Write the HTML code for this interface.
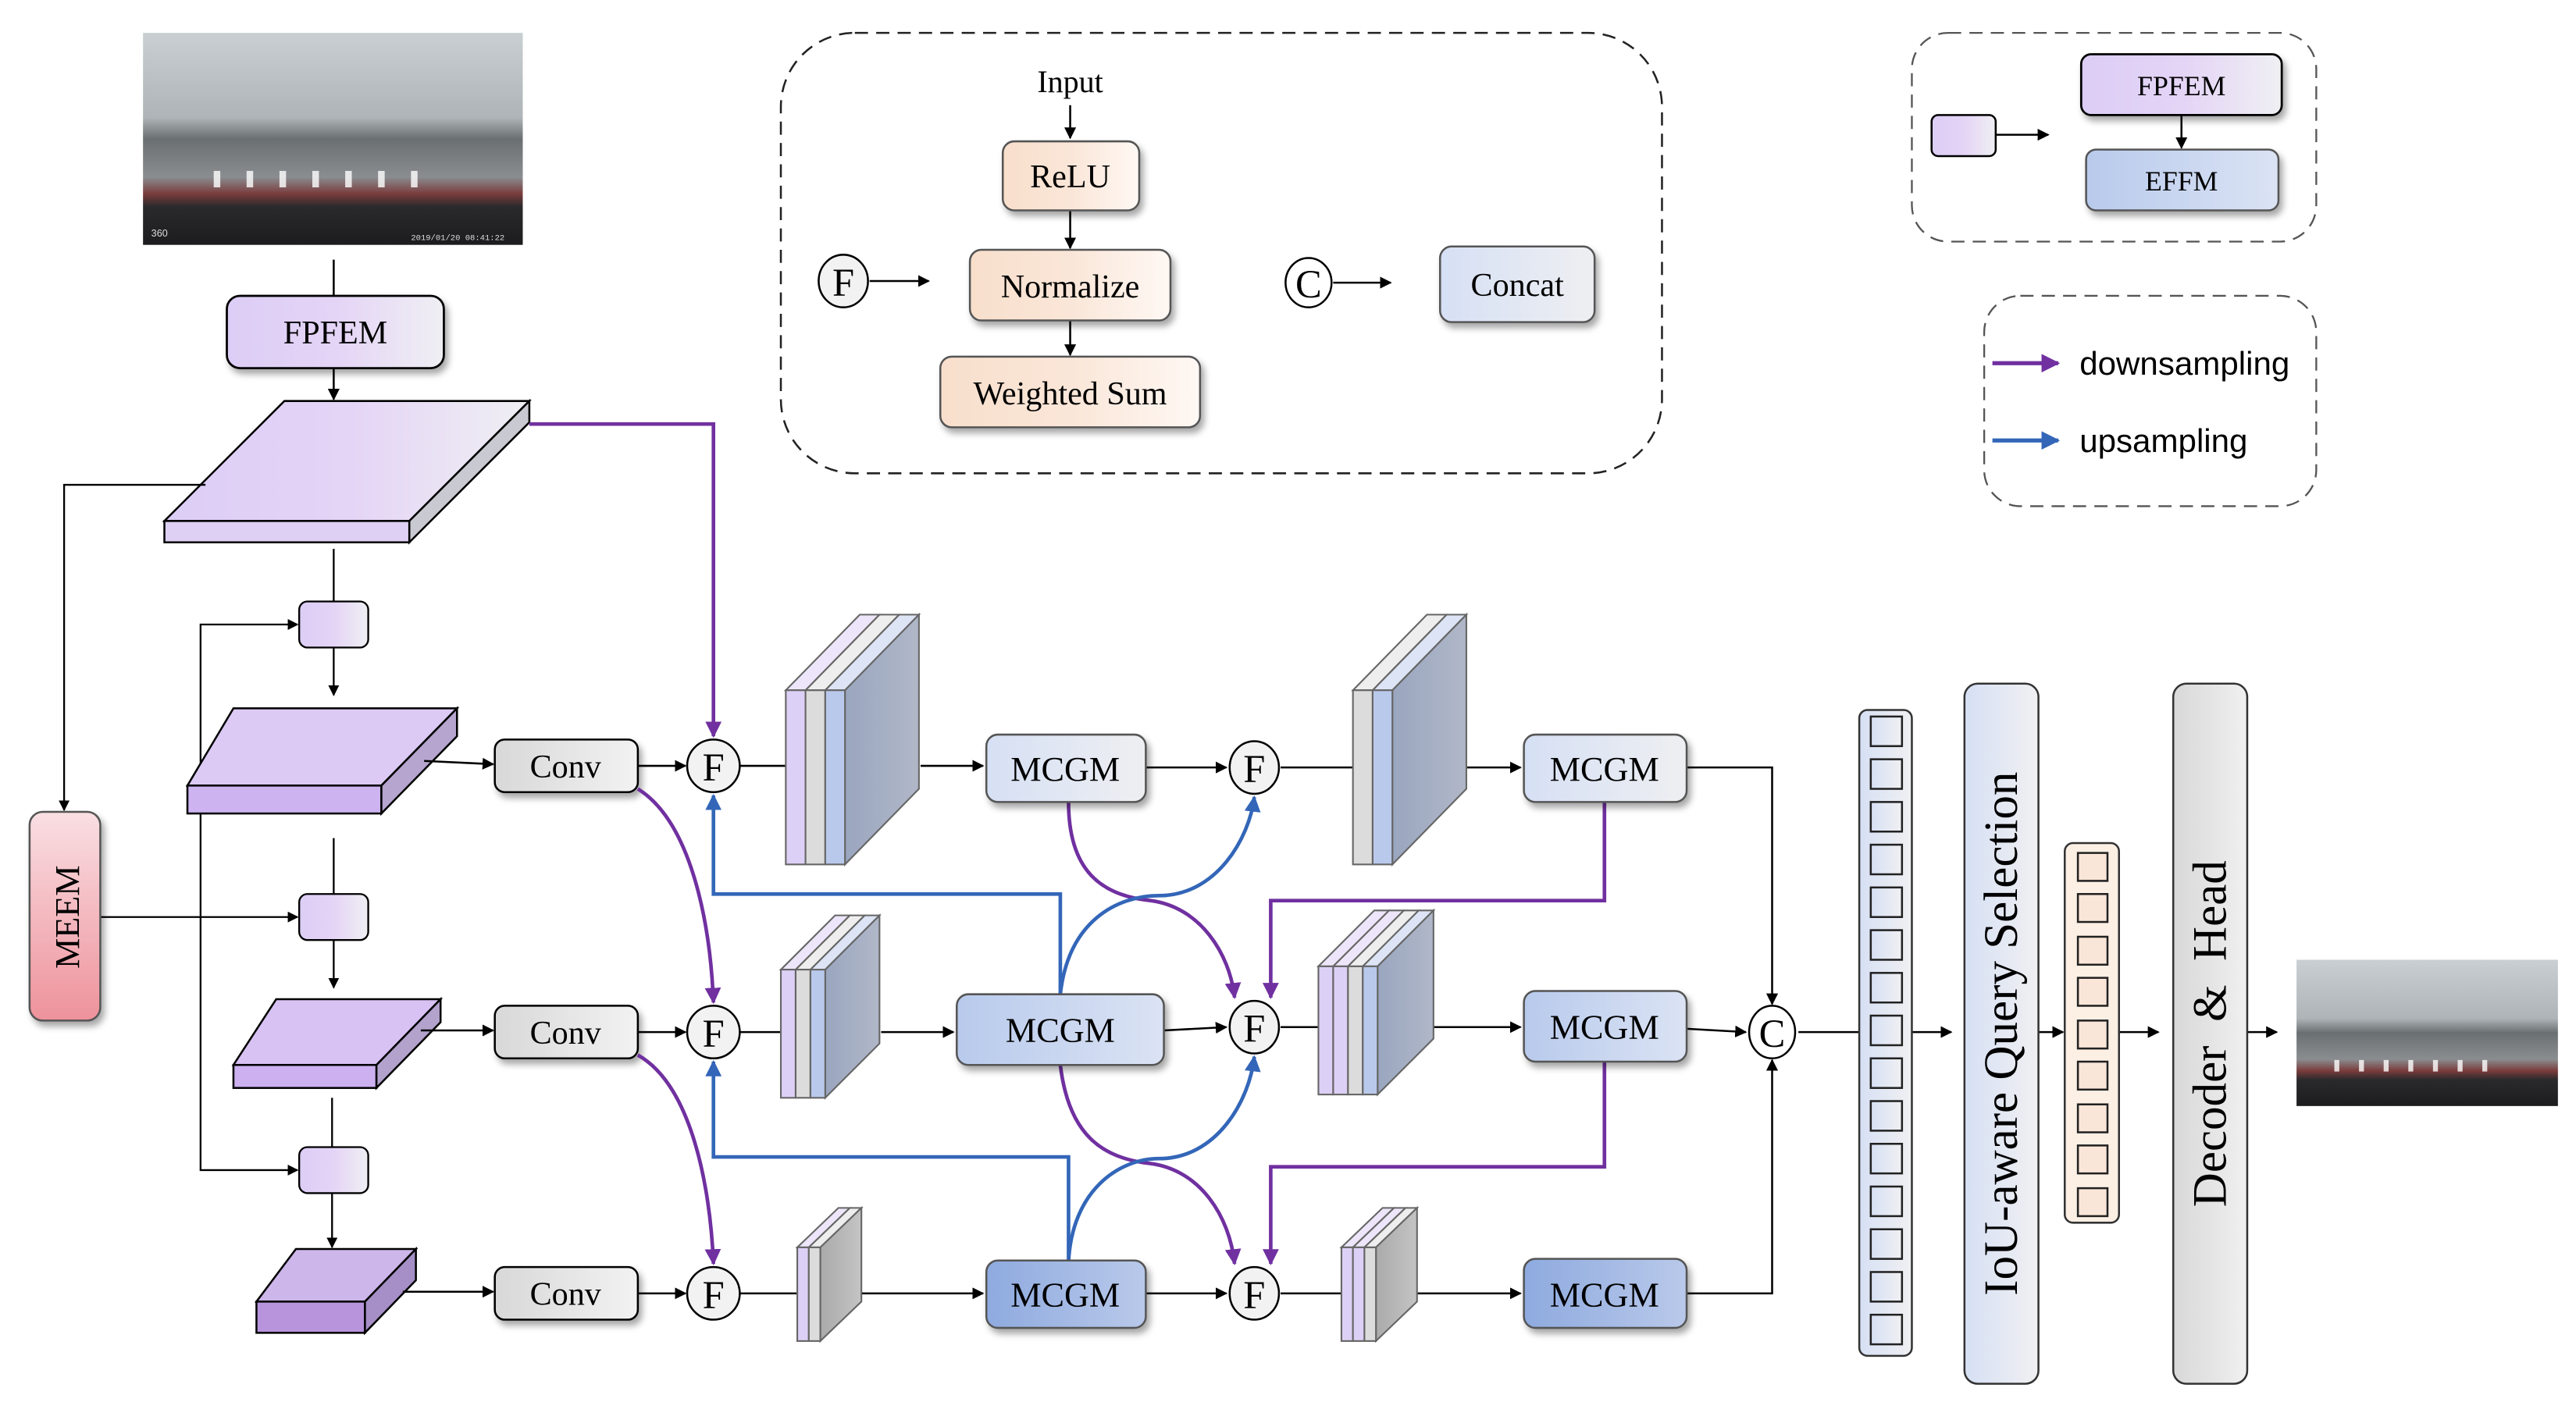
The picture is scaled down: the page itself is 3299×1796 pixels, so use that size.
<!DOCTYPE html>
<html><head><meta charset="utf-8"><style>html,body{margin:0;padding:0;background:#fff}svg{display:block}</style></head><body>
<svg width="3299" height="1796" viewBox="0 0 1567 853.1" preserveAspectRatio="none" xmlns="http://www.w3.org/2000/svg" font-family="'Liberation Serif',serif">
<defs>
<marker id="ak" viewBox="0 0 10 10" refX="9" refY="5" markerWidth="6" markerHeight="6" orient="auto-start-reverse"><path d="M0,0L10,5L0,10z" fill="#000"/></marker>
<marker id="ap" viewBox="0 0 10 10" refX="9" refY="5" markerWidth="4.5" markerHeight="4.5" orient="auto"><path d="M0,0L10,5L0,10z" fill="#7030a0"/></marker>
<marker id="ab" viewBox="0 0 10 10" refX="9" refY="5" markerWidth="4.5" markerHeight="4.5" orient="auto"><path d="M0,0L10,5L0,10z" fill="#3366b8"/></marker>
<filter id="sh" x="-10%" y="-10%" width="130%" height="140%"><feDropShadow dx="2" dy="3" stdDeviation="2" flood-color="#000" flood-opacity="0.35"/></filter>
<linearGradient id="gPur" x1="0" x2="1"><stop offset="0" stop-color="#dccdf6"/><stop offset="0.5" stop-color="#e4d4f6"/><stop offset="1" stop-color="#efeff3"/></linearGradient>
<linearGradient id="gGrey" x1="0" x2="1"><stop offset="0" stop-color="#d8d8d8"/><stop offset="1" stop-color="#f2f2f2"/></linearGradient>
<linearGradient id="gBlue1" x1="0" x2="1"><stop offset="0" stop-color="#d6e0f4"/><stop offset="1" stop-color="#eeeff2"/></linearGradient>
<linearGradient id="gBlue2" x1="0" x2="1"><stop offset="0" stop-color="#b8caec"/><stop offset="1" stop-color="#dbe3f4"/></linearGradient>
<linearGradient id="gBlue3" x1="0" x2="1"><stop offset="0" stop-color="#8eaadf"/><stop offset="1" stop-color="#b9c9ea"/></linearGradient>
<linearGradient id="gOr" x1="0" x2="1"><stop offset="0" stop-color="#f8dfcc"/><stop offset="0.5" stop-color="#fae6d8"/><stop offset="1" stop-color="#fff8f4"/></linearGradient>
<linearGradient id="gPink" x1="0" x2="0" y1="0" y2="1"><stop offset="0" stop-color="#f9dfe3"/><stop offset="1" stop-color="#ee929b"/></linearGradient>
<linearGradient id="gSide" x1="0" x2="1"><stop offset="0" stop-color="#9aa6bf"/><stop offset="1" stop-color="#b0b7c8"/></linearGradient>
<linearGradient id="gSideG" x1="0" x2="1"><stop offset="0" stop-color="#aaa"/><stop offset="1" stop-color="#c4c4c4"/></linearGradient>
<linearGradient id="gSky" x1="0" x2="0" y1="0" y2="1"><stop offset="0" stop-color="#c9cfd2"/><stop offset="0.4" stop-color="#aeb4b7"/><stop offset="0.5" stop-color="#6a6f72"/><stop offset="0.68" stop-color="#8a8d90"/><stop offset="0.76" stop-color="#7a3b3c"/><stop offset="0.82" stop-color="#2a2a2c"/><stop offset="1" stop-color="#1c1c1e"/></linearGradient>
<linearGradient id="gIou" x1="0" x2="1"><stop offset="0" stop-color="#d6e0f4"/><stop offset="1" stop-color="#f0f0f2"/></linearGradient>
<linearGradient id="gDec" x1="0" x2="1"><stop offset="0" stop-color="#d8d8d8"/><stop offset="1" stop-color="#f0f0f0"/></linearGradient>
</defs>

<!-- input image -->
<rect x="87" y="20" width="231" height="129" fill="url(#gSky)"/>
<g fill="#fff" opacity="0.8"><rect x="130" y="104" width="4" height="10"/><rect x="150" y="104" width="4" height="10"/><rect x="170" y="104" width="4" height="10"/><rect x="190" y="104" width="4" height="10"/><rect x="210" y="104" width="4" height="10"/><rect x="230" y="104" width="4" height="10"/><rect x="250" y="104" width="4" height="10"/></g>
<text x="92" y="144" font-family="'Liberation Sans',sans-serif" font-size="6" fill="#ddd">360</text>
<text x="250" y="146" font-family="'Liberation Mono',monospace" font-size="5" fill="#ddd">2019/01/20 08:41:22</text>

<!-- output image -->
<rect x="1397" y="584" width="159" height="89" fill="url(#gSky)"/>
<g fill="#fff" opacity="0.8"><rect x="1420" y="645" width="3" height="7"/><rect x="1435" y="645" width="3" height="7"/><rect x="1450" y="645" width="3" height="7"/><rect x="1465" y="645" width="3" height="7"/><rect x="1480" y="645" width="3" height="7"/><rect x="1495" y="645" width="3" height="7"/><rect x="1510" y="645" width="3" height="7"/></g>

<g stroke="#000" stroke-width="1.2" fill="none">
<line x1="203" y1="158" x2="203" y2="180"/>
<line x1="203" y1="224" x2="203" y2="243" marker-end="url(#ak)"/>
</g>
<rect x="138" y="180" width="132" height="44" rx="8" fill="url(#gPur)" stroke="#000" stroke-width="1.3" filter="url(#sh)"/>
<text x="204" y="209" font-size="20" text-anchor="middle">FPFEM</text>

<!-- slab1 -->
<polygon points="173,244 322,244 249,317 100,317" fill="url(#gPur)" stroke="#000" stroke-width="1.2"/>
<rect x="100" y="317" width="149" height="13" fill="#ddd0f4" stroke="#000" stroke-width="1.2"/>
<polygon points="249,317 322,244 322,257 249,330" fill="#c9c9d2" stroke="#000" stroke-width="1.2"/>

<!-- left lines -->
<g stroke="#000" stroke-width="1.1" fill="none">
<polyline points="125,295 39,295 39,493" marker-end="url(#ak)"/>
<line x1="203" y1="334" x2="203" y2="366"/>
<polyline points="122,495 122,380 181,380" marker-end="url(#ak)"/>
<line x1="203" y1="394" x2="203" y2="423" marker-end="url(#ak)"/>
<line x1="61" y1="558" x2="181" y2="558" marker-end="url(#ak)"/>
<line x1="203" y1="510" x2="203" y2="544"/>
<line x1="203" y1="572" x2="203" y2="601" marker-end="url(#ak)"/>
<polyline points="122,495 122,712 181,712" marker-end="url(#ak)"/>
<line x1="202" y1="668" x2="202" y2="698"/>
<line x1="202" y1="726" x2="202" y2="759" marker-end="url(#ak)"/>
</g>
<rect x="18" y="494" width="43" height="127" rx="8" fill="url(#gPink)" stroke="#555" stroke-width="1.2" filter="url(#sh)"/>
<text transform="translate(48,558) rotate(-90)" font-size="21" text-anchor="middle">MEEM</text>
<rect x="182" y="366" width="42" height="28" rx="5" fill="url(#gPur)" stroke="#000" stroke-width="1.1"/>
<rect x="182" y="544" width="42" height="28" rx="5" fill="url(#gPur)" stroke="#000" stroke-width="1.1"/>
<rect x="182" y="698" width="42" height="28" rx="5" fill="url(#gPur)" stroke="#000" stroke-width="1.1"/>

<!-- slabs 2-4 -->
<polygon points="142,431 278,431 232,478 114,478" fill="#dccaf5" stroke="#000" stroke-width="1.2"/>
<rect x="114" y="478" width="118" height="17" fill="#cdb4f0" stroke="#000" stroke-width="1.2"/>
<polygon points="232,478 278,431 278,448 232,495" fill="#b6a5cf" stroke="#000" stroke-width="1.2"/>
<polygon points="168,608 268,608 229,648 142,648" fill="#d8c2f3" stroke="#000" stroke-width="1.2"/>
<rect x="142" y="648" width="87" height="14" fill="#ccb0f0" stroke="#000" stroke-width="1.2"/>
<polygon points="229,648 268,608 268,622 229,662" fill="#b2a2cc" stroke="#000" stroke-width="1.2"/>
<polygon points="180,760 253,760 222,792 156,792" fill="#cdb6ea" stroke="#000" stroke-width="1.2"/>
<rect x="156" y="792" width="66" height="19" fill="#b894dc" stroke="#000" stroke-width="1.2"/>
<polygon points="222,792 253,760 253,779 222,811" fill="#a58fc6" stroke="#000" stroke-width="1.2"/>

<!-- conv row arrows -->
<g stroke="#000" stroke-width="1.2" fill="none">
<line x1="258" y1="463" x2="300" y2="465" marker-end="url(#ak)"/>
<line x1="388" y1="466" x2="417" y2="466" marker-end="url(#ak)"/>
<line x1="256" y1="627" x2="300" y2="627" marker-end="url(#ak)"/>
<line x1="388" y1="628" x2="417" y2="628" marker-end="url(#ak)"/>
<line x1="245" y1="786" x2="300" y2="786" marker-end="url(#ak)"/>
<line x1="388" y1="787" x2="417" y2="787" marker-end="url(#ak)"/>
<line x1="450" y1="466" x2="478" y2="466"/>
<line x1="560" y1="466" x2="598" y2="466" marker-end="url(#ak)"/>
<line x1="450" y1="628" x2="475" y2="628"/>
<line x1="536" y1="628" x2="580" y2="628" marker-end="url(#ak)"/>
<line x1="450" y1="787" x2="487" y2="787"/>
<line x1="524" y1="787" x2="598" y2="787" marker-end="url(#ak)"/>
<line x1="697" y1="467" x2="746" y2="467" marker-end="url(#ak)"/>
<line x1="708" y1="627" x2="746" y2="625" marker-end="url(#ak)"/>
<line x1="697" y1="787" x2="746" y2="787" marker-end="url(#ak)"/>
<line x1="779" y1="467" x2="823" y2="467"/>
<line x1="892" y1="467" x2="925" y2="467" marker-end="url(#ak)"/>
<line x1="779" y1="625" x2="805" y2="625"/>
<line x1="872" y1="625" x2="925" y2="625" marker-end="url(#ak)"/>
<line x1="779" y1="787" x2="816" y2="787"/>
<line x1="862" y1="787" x2="925" y2="787" marker-end="url(#ak)"/>
<polyline points="1026,467 1078,467 1078,611" marker-end="url(#ak)"/>
<line x1="1026" y1="626" x2="1062" y2="628" marker-end="url(#ak)"/>
<polyline points="1026,787 1078,787 1078,645" marker-end="url(#ak)"/>
<line x1="1094" y1="628" x2="1131" y2="628"/>
<line x1="1163" y1="628" x2="1187" y2="628" marker-end="url(#ak)"/>
<line x1="1240" y1="628" x2="1255" y2="628" marker-end="url(#ak)"/>
<line x1="1289" y1="628" x2="1313" y2="628" marker-end="url(#ak)"/>
<line x1="1367" y1="628" x2="1385" y2="628" marker-end="url(#ak)"/>
</g>

<!-- conv boxes -->
<g filter="url(#sh)" stroke="#000" stroke-width="1.2" fill="url(#gGrey)">
<rect x="301" y="450" width="87" height="32" rx="6"/>
<rect x="301" y="612" width="87" height="32" rx="6"/>
<rect x="301" y="771" width="87" height="32" rx="6"/>
</g>
<g font-size="20" text-anchor="middle"><text x="344" y="473">Conv</text><text x="344" y="635">Conv</text><text x="344" y="794">Conv</text></g>

<!-- purple/blue connectors -->
<g fill="none" stroke-width="2.2">
<polyline points="322,258 434,258 434,448" stroke="#7030a0" marker-end="url(#ap)"/>
<path d="M388,480 C420,500 432,560 434,610" stroke="#7030a0" marker-end="url(#ap)"/>
<path d="M388,642 C420,660 432,720 434,769" stroke="#7030a0" marker-end="url(#ap)"/>
<polyline points="645,605 645,544 434,544 434,484" stroke="#3366b8" marker-end="url(#ab)"/>
<polyline points="650,768 650,704 434,704 434,646" stroke="#3366b8" marker-end="url(#ab)"/>
<path d="M650,488 C650,530 670,545 700,548 C730,552 748,580 751,607" stroke="#7030a0" marker-end="url(#ap)"/>
<path d="M645,605 C650,560 680,545 705,545 C740,545 760,510 763,485" stroke="#3366b8" marker-end="url(#ab)"/>
<path d="M645,648 C650,690 670,705 700,708 C730,712 748,740 751,769" stroke="#7030a0" marker-end="url(#ap)"/>
<path d="M650,768 C652,725 680,705 705,705 C740,705 760,670 763,643" stroke="#3366b8" marker-end="url(#ab)"/>
<polyline points="976,488 976,548 773,548 773,607" stroke="#7030a0" marker-end="url(#ap)"/>
<polyline points="976,646 976,710 773,710 773,769" stroke="#7030a0" marker-end="url(#ap)"/>
</g>

<!-- F circles -->
<g fill="#f2f2f2" stroke="#000" stroke-width="1.2">
<circle cx="434" cy="466" r="16"/><circle cx="434" cy="628" r="16"/><circle cx="434" cy="787" r="16"/>
<ellipse cx="763" cy="467" rx="15" ry="16"/><ellipse cx="763" cy="625" rx="15" ry="16"/><ellipse cx="763" cy="787" rx="15" ry="16"/>
<ellipse cx="1078" cy="628" rx="14" ry="16" fill="#fff"/>
</g>
<g font-size="24" text-anchor="middle">
<text x="434" y="475">F</text><text x="434" y="637">F</text><text x="434" y="796">F</text>
<text x="763" y="476">F</text><text x="763" y="634">F</text><text x="763" y="796">F</text>
<text x="1078" y="637">C</text>
</g>

<!-- stacks -->
<g stroke="#666" stroke-width="1">
<polygon points="478,420 523,374 535,374 490,420" fill="#ede6fa"/>
<polygon points="490,420 535,374 547,374 502,420" fill="#eeeeee"/>
<polygon points="502,420 547,374 559,374 514,420" fill="#dce4f5"/>
<polygon points="514,420 559,374 559,480 514,526" fill="url(#gSide)"/>
<rect x="478" y="420" width="12" height="106" fill="#ddd0f6"/>
<rect x="490" y="420" width="12" height="106" fill="#dcdcdc"/>
<rect x="502" y="420" width="12" height="106" fill="#b9c9ec"/>
<polygon points="823,420 868,374 880,374 835,420" fill="#eeeeee"/>
<polygon points="835,420 880,374 892,374 847,420" fill="#dce4f5"/>
<polygon points="847,420 892,374 892,480 847,526" fill="url(#gSide)"/>
<rect x="823" y="420" width="12" height="106" fill="#dcdcdc"/>
<rect x="835" y="420" width="12" height="106" fill="#b9c9ec"/>
<polygon points="475,590 508,557 517,557 484,590" fill="#ede6fa"/>
<polygon points="484,590 517,557 526,557 493,590" fill="#eeeeee"/>
<polygon points="493,590 526,557 535,557 502,590" fill="#dce4f5"/>
<polygon points="502,590 535,557 535,635 502,668" fill="url(#gSide)"/>
<rect x="475" y="590" width="9" height="78" fill="#ddd0f6"/>
<rect x="484" y="590" width="9" height="78" fill="#dcdcdc"/>
<rect x="493" y="590" width="9" height="78" fill="#b9c9ec"/>
<polygon points="802,588 836,554 845,554 811,588" fill="#ede6fa"/>
<polygon points="811,588 845,554 854,554 820,588" fill="#ede6fa"/>
<polygon points="820,588 854,554 863,554 829,588" fill="#eeeeee"/>
<polygon points="829,588 863,554 872,554 838,588" fill="#dce4f5"/>
<polygon points="838,588 872,554 872,632 838,666" fill="url(#gSide)"/>
<rect x="802" y="588" width="9" height="78" fill="#ddd0f6"/>
<rect x="811" y="588" width="9" height="78" fill="#ddd0f6"/>
<rect x="820" y="588" width="9" height="78" fill="#dcdcdc"/>
<rect x="829" y="588" width="9" height="78" fill="#b9c9ec"/>
<polygon points="485,759 510,735 517,735 492,759" fill="#ede6fa"/>
<polygon points="492,759 517,735 524,735 499,759" fill="#eeeeee"/>
<polygon points="499,759 524,735 524,792 499,816" fill="url(#gSideG)"/>
<rect x="485" y="759" width="7" height="57" fill="#ddd0f6"/>
<rect x="492" y="759" width="7" height="57" fill="#dcdcdc"/>
<polygon points="816,759 841,735 848,735 823,759" fill="#ede6fa"/>
<polygon points="823,759 848,735 855,735 830,759" fill="#ede6fa"/>
<polygon points="830,759 855,735 862,735 837,759" fill="#eeeeee"/>
<polygon points="837,759 862,735 862,792 837,816" fill="url(#gSideG)"/>
<rect x="816" y="759" width="7" height="57" fill="#ddd0f6"/>
<rect x="823" y="759" width="7" height="57" fill="#ddd0f6"/>
<rect x="830" y="759" width="7" height="57" fill="#dcdcdc"/>
</g>

<!-- MCGM boxes -->
<g filter="url(#sh)" stroke="#555" stroke-width="1.2">
<rect x="600" y="447" width="97" height="41" rx="7" fill="url(#gBlue1)"/>
<rect x="927" y="447" width="99" height="41" rx="7" fill="url(#gBlue1)"/>
<rect x="582" y="605" width="126" height="43" rx="7" fill="url(#gBlue2)"/>
<rect x="927" y="603" width="99" height="43" rx="7" fill="url(#gBlue2)"/>
<rect x="600" y="767" width="97" height="41" rx="7" fill="url(#gBlue3)"/>
<rect x="927" y="766" width="99" height="42" rx="7" fill="url(#gBlue3)"/>
</g>
<g font-size="21" text-anchor="middle">
<text x="648" y="475">MCGM</text><text x="976" y="475">MCGM</text>
<text x="645" y="634">MCGM</text><text x="976" y="632">MCGM</text>
<text x="648" y="795">MCGM</text><text x="976" y="795">MCGM</text>
</g>

<!-- right columns -->
<rect x="1131" y="432" width="32" height="393" rx="5" fill="url(#gIou)" stroke="#333" stroke-width="1.2"/>
<g fill="url(#gIou)" stroke="#222" stroke-width="1.2">
<rect x="1138" y="436" width="19" height="18"/><rect x="1138" y="462" width="19" height="18"/><rect x="1138" y="488" width="19" height="18"/><rect x="1138" y="514" width="19" height="18"/><rect x="1138" y="540" width="19" height="18"/><rect x="1138" y="566" width="19" height="18"/><rect x="1138" y="592" width="19" height="18"/><rect x="1138" y="618" width="19" height="18"/><rect x="1138" y="644" width="19" height="18"/><rect x="1138" y="670" width="19" height="18"/><rect x="1138" y="696" width="19" height="18"/><rect x="1138" y="722" width="19" height="18"/><rect x="1138" y="748" width="19" height="18"/><rect x="1138" y="774" width="19" height="18"/><rect x="1138" y="800" width="19" height="18"/>
</g>
<rect x="1195" y="416" width="45" height="426" rx="8" fill="url(#gIou)" stroke="#333" stroke-width="1.2"/>
<text transform="translate(1227,629) rotate(-90)" font-size="29" text-anchor="middle">IoU-aware Query Selection</text>
<rect x="1256" y="513" width="33" height="231" rx="5" fill="#fcefe4" stroke="#333" stroke-width="1.2"/>
<g fill="#fae6d8" stroke="#222" stroke-width="1.2">
<rect x="1264" y="519" width="18" height="17"/><rect x="1264" y="544" width="18" height="17"/><rect x="1264" y="570" width="18" height="17"/><rect x="1264" y="595" width="18" height="17"/><rect x="1264" y="621" width="18" height="17"/><rect x="1264" y="646" width="18" height="17"/><rect x="1264" y="672" width="18" height="17"/><rect x="1264" y="697" width="18" height="17"/><rect x="1264" y="723" width="18" height="17"/>
</g>
<rect x="1322" y="416" width="45" height="426" rx="8" fill="url(#gDec)" stroke="#333" stroke-width="1.2"/>
<text transform="translate(1354,629) rotate(-90)" font-size="29" text-anchor="middle" xml:space="preserve">Decoder  &amp;  Head</text>

<!-- top dashed box -->
<rect x="475" y="20" width="536" height="268" rx="45" fill="none" stroke="#222" stroke-width="1.2" stroke-dasharray="8,5"/>
<text x="651" y="56" font-size="19" text-anchor="middle">Input</text>
<g stroke="#000" stroke-width="1.2">
<line x1="651" y1="64" x2="651" y2="84" marker-end="url(#ak)"/>
<line x1="651" y1="128" x2="651" y2="151" marker-end="url(#ak)"/>
<line x1="651" y1="195" x2="651" y2="216" marker-end="url(#ak)"/>
<line x1="529" y1="171" x2="565" y2="171" marker-end="url(#ak)"/>
<line x1="811" y1="172" x2="846" y2="172" marker-end="url(#ak)"/>
</g>
<g filter="url(#sh)" stroke="#555" stroke-width="1.2" fill="url(#gOr)">
<rect x="610" y="86" width="83" height="42" rx="7"/>
<rect x="590" y="152" width="122" height="43" rx="7"/>
<rect x="572" y="217" width="158" height="43" rx="7"/>
</g>
<rect x="876" y="150" width="94" height="46" rx="7" fill="url(#gBlue1)" stroke="#555" stroke-width="1.2" filter="url(#sh)"/>
<g font-size="20" text-anchor="middle">
<text x="651" y="114">ReLU</text><text x="651" y="181">Normalize</text><text x="651" y="246">Weighted Sum</text><text x="923" y="180">Concat</text>
</g>
<ellipse cx="513" cy="171" rx="15" ry="16" fill="#f2f2f2" stroke="#000" stroke-width="1.2"/>
<text x="513" y="180" font-size="24" text-anchor="middle">F</text>
<ellipse cx="796" cy="172" rx="14" ry="15" fill="#fff" stroke="#000" stroke-width="1.2"/>
<text x="796" y="181" font-size="24" text-anchor="middle">C</text>

<!-- legend 1 -->
<rect x="1163" y="20" width="246" height="127" rx="22" fill="none" stroke="#555" stroke-width="1.1" stroke-dasharray="8,5"/>
<rect x="1175" y="70" width="39" height="25" rx="4" fill="url(#gPur)" stroke="#000" stroke-width="1.2"/>
<line x1="1214" y1="82" x2="1246" y2="82" stroke="#000" stroke-width="1.2" marker-end="url(#ak)"/>
<rect x="1266" y="33" width="122" height="37" rx="6" fill="url(#gPur)" stroke="#000" stroke-width="1.3" filter="url(#sh)"/>
<line x1="1327" y1="70" x2="1327" y2="90" stroke="#000" stroke-width="1.2" marker-end="url(#ak)"/>
<rect x="1269" y="91" width="117" height="37" rx="6" fill="url(#gBlue2)" stroke="#555" stroke-width="1.2" filter="url(#sh)"/>
<text x="1327" y="58" font-size="17" text-anchor="middle">FPFEM</text>
<text x="1327" y="116" font-size="17" text-anchor="middle">EFFM</text>

<!-- legend 2 -->
<rect x="1207" y="180" width="202" height="128" rx="22" fill="none" stroke="#555" stroke-width="1.1" stroke-dasharray="8,5"/>
<line x1="1212" y1="221" x2="1252" y2="221" stroke="#7030a0" stroke-width="2.5" marker-end="url(#ap)"/>
<line x1="1212" y1="268" x2="1252" y2="268" stroke="#3366b8" stroke-width="2.5" marker-end="url(#ab)"/>
<g font-family="'Liberation Sans',sans-serif" font-size="20">
<text x="1265" y="228">downsampling</text>
<text x="1265" y="275">upsampling</text>
</g>
</svg>
</body></html>
